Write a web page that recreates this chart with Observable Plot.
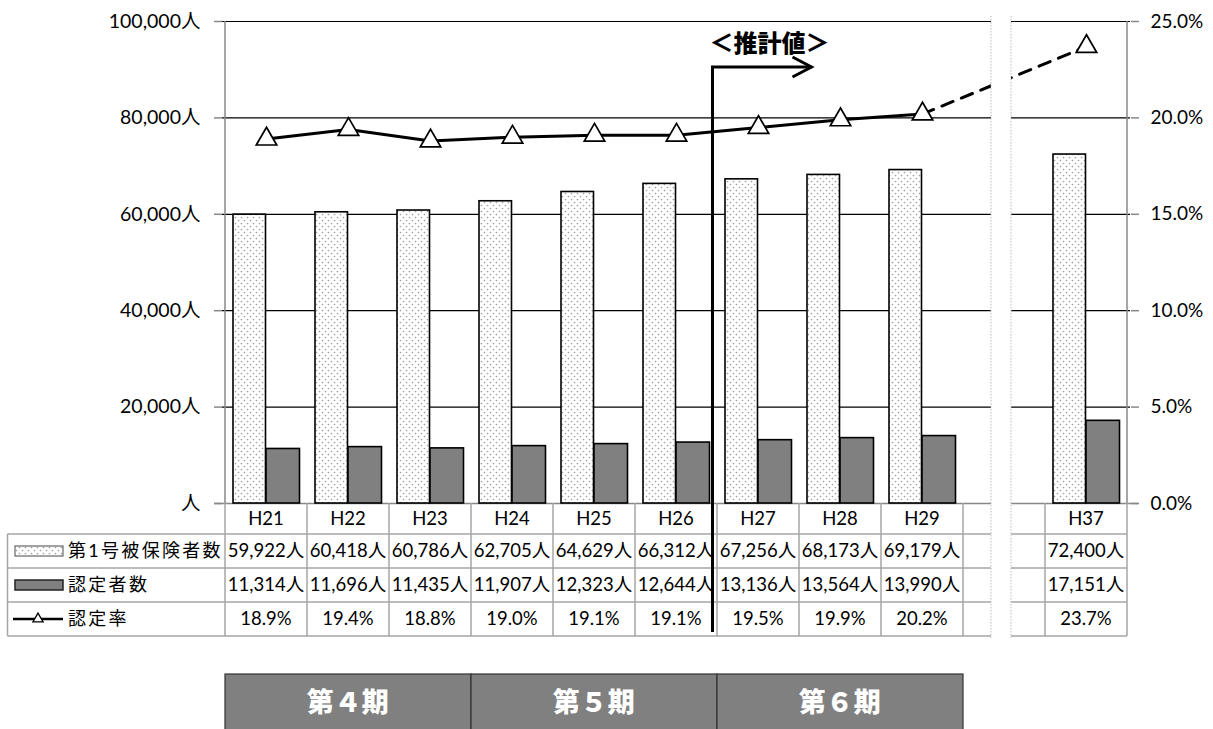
<!DOCTYPE html>
<html><head><meta charset="utf-8">
<script src="https://cdn.jsdelivr.net/npm/d3@7"></script>
<script src="https://cdn.jsdelivr.net/npm/@observablehq/plot@0.6"></script>
<style>
html,body{margin:0;padding:0;background:#fff;}
svg{display:block;}
</style>
</head><body>
<svg width="0" height="0" style="position:absolute">
  <defs>
    <pattern id="dots" patternUnits="userSpaceOnUse" width="6" height="6">
      <rect width="6" height="6" fill="#fff"/>
      <circle cx="1.5" cy="1.5" r="0.85" fill="#a0a0a0"/>
      <circle cx="4.5" cy="4.5" r="0.85" fill="#a0a0a0"/>
    </pattern>
  </defs>
</svg>
<div id="chart"></div>
<script>
// ---- data ----
const categories = ["H21","H22","H23","H24","H25","H26","H27","H28","H29"," ","H37"];
const insured    = [59922,60418,60786,62705,64629,66312,67256,68173,69179,null,72400];
const certified  = [11314,11696,11435,11907,12323,12644,13136,13564,13990,null,17151];
const rates      = [18.9,19.4,18.8,19.0,19.1,19.1,19.5,19.9,20.2,null,23.7];
const yTicks     = [0,20000,40000,60000,80000,100000];
const seriesNames = ["第1号被保険者数","認定者数","認定率"];
const periods    = ["第４期","第５期","第６期"];
const periodStart = ["H21","H24","H27"];
const forecastLabel = "＜推計値＞";
const forecastStart = "H27";

const RATE_SCALE = 100000 / 25; // 25% on right axis = 100,000 on left

const rows = categories.map((c,i)=>({cat:c, ins:insured[i], cert:certified[i], rate:rates[i], ry: rates[i]==null?null:rates[i]*RATE_SCALE}));
const barRows = rows.filter(d=>d.ins!=null);
const lineRows = rows.filter(d=>d.rate!=null);
const solid = lineRows.filter(d=>d.cat!=="H37");
const dashed = lineRows.filter(d=>d.cat==="H29"||d.cat==="H37");

const FONT = "Lato, 'Noto Sans CJK JP', sans-serif";

const plot = Plot.plot({
  width:1213, height:729,
  marginLeft:222, marginRight:83, marginTop:21, marginBottom:226,
  style:{fontFamily:FONT, fontSize:"19px", color:"#000", background:"#fff", overflow:"visible"},
  x:{type:"band", domain:categories, padding:0, axis:null},
  y:{domain:[0,100000], axis:null},
  marks:[
    Plot.ruleY(yTicks.slice(1), {stroke:"#000", strokeWidth:1.2}),
    Plot.ruleY([0], {stroke:"#888", strokeWidth:1.5, insetLeft:-8, insetRight:-8}),
    Plot.axisY({anchor:"left", ticks:yTicks, tickSize:8, tickPadding:14, stroke:"#888", strokeWidth:1.5,
      tickFormat:d=> d===0 ? "人" : d3.format(",")(d)+"人", fontSize:19.5}),
    Plot.axisY({anchor:"right", ticks:yTicks, tickSize:8, tickPadding:12, stroke:"#888", strokeWidth:1.5,
      tickFormat:d=> (d/RATE_SCALE).toFixed(1)+"%", fontSize:19}),
    Plot.barY(barRows, {x:"cat", y:"ins", fill:"url(#dots)", stroke:"#000", strokeWidth:1.6, insetLeft:8, insetRight:41.5}),
    Plot.barY(barRows, {x:"cat", y:"cert", fill:"#808080", stroke:"#000", strokeWidth:1.6, insetLeft:41, insetRight:7.5}),
    Plot.line(solid, {x:"cat", y:"ry", stroke:"#000", strokeWidth:3}),
    Plot.line(dashed, {x:"cat", y:"ry", stroke:"#000", strokeWidth:3, strokeDasharray:"12,9"}),
    Plot.dot(lineRows, {x:"cat", y:"ry", symbol:"triangle", r:7.6, fill:"#fff", stroke:"#000", strokeWidth:1.7})
  ]
});
document.getElementById("chart").appendChild(plot);

const svg = d3.select(plot);
const xs = plot.scale("x"), ys = plot.scale("y");
const bw = xs.bandwidth;
const xL = xs.apply(categories[0]);
const xR = xs.apply(categories[categories.length-1]) + bw;
const y0 = ys.apply(0);
const legendLeft = 7.5;
const rowB = [y0, 534, 568, 602, 636];
const gridColor = "#a6a6a6";

// left & right axis lines
svg.append("line").attr("x1",xL).attr("x2",xL).attr("y1",ys.apply(100000)).attr("y2",y0).attr("stroke","#888").attr("stroke-width",1.5);
svg.append("line").attr("x1",xR).attr("x2",xR).attr("y1",ys.apply(100000)).attr("y2",y0).attr("stroke","#888").attr("stroke-width",1.5);

// table
const tg = svg.append("g").attr("font-family",FONT).attr("font-size",18.5);
rowB.forEach((yy,i)=>{
  if(i===0) return;
  tg.append("line").attr("x1",legendLeft).attr("x2",xR).attr("y1",yy).attr("y2",yy).attr("stroke",gridColor).attr("stroke-width",1.5);
});
categories.forEach((c,i)=>{
  const xx = xs.apply(c);
  tg.append("line").attr("x1",xx).attr("x2",xx).attr("y1",y0).attr("y2",rowB[4]).attr("stroke",gridColor).attr("stroke-width",1.5);
});
tg.append("line").attr("x1",xR).attr("x2",xR).attr("y1",y0).attr("y2",rowB[4]).attr("stroke",gridColor).attr("stroke-width",1.5);
tg.append("line").attr("x1",legendLeft).attr("x2",legendLeft).attr("y1",rowB[1]).attr("y2",rowB[4]).attr("stroke",gridColor).attr("stroke-width",1.5);

const mid = i => (rowB[i]+rowB[i+1])/2;
const fmt = d3.format(",");
rows.forEach(d=>{
  const cx = xs.apply(d.cat) + bw/2;
  tg.append("text").attr("x",cx).attr("y",mid(0)).attr("dy","0.35em").attr("text-anchor","middle").text(d.cat.trim());
  if(d.ins!=null) tg.append("text").attr("x",cx).attr("y",mid(1)).attr("dy","0.35em").attr("text-anchor","middle").text(fmt(d.ins)+"人");
  if(d.cert!=null) tg.append("text").attr("x",cx).attr("y",mid(2)).attr("dy","0.35em").attr("text-anchor","middle").text(fmt(d.cert)+"人");
  if(d.rate!=null) tg.append("text").attr("x",cx).attr("y",mid(3)).attr("dy","0.35em").attr("text-anchor","middle").text(d.rate.toFixed(1)+"%");
});
// legend column
seriesNames.forEach((n,i)=>{
  tg.append("text").attr("x",68).attr("y",mid(i+1)).attr("dy","0.35em").attr("text-anchor","start")
    .attr("font-size",18).attr("letter-spacing","2.3px").text(n);
});
tg.append("rect").attr("x",15).attr("y",mid(1)-5).attr("width",48).attr("height",10).attr("fill","url(#dots)").attr("stroke","#666").attr("stroke-width",1.2);
tg.append("rect").attr("x",15).attr("y",mid(2)-5).attr("width",48).attr("height",10).attr("fill","#808080").attr("stroke","#222").attr("stroke-width",1.5);
tg.append("line").attr("x1",13).attr("x2",63).attr("y1",mid(3)).attr("y2",mid(3)).attr("stroke","#000").attr("stroke-width",2.5);
tg.append("path").attr("d",d3.symbol(d3.symbolTriangle, 45)()).attr("transform",`translate(38,${mid(3)})`).attr("fill","#fff").attr("stroke","#000").attr("stroke-width",1.3);

// axis break band
const bx = xs.apply(" ") + 28;
svg.append("rect").attr("x",bx).attr("y",16).attr("width",20).attr("height",622).attr("fill","#fff");
[bx, bx+20].forEach(xx=>svg.append("line").attr("x1",xx).attr("x2",xx).attr("y1",16).attr("y2",638).attr("stroke","#bbb").attr("stroke-width",1).attr("stroke-dasharray","1.5,1.5"));

// forecast annotation
const ax = xs.apply(forecastStart) - 4.5;
const ag = svg.append("g").attr("stroke","#000").attr("stroke-width",3).attr("fill","none");
ag.append("line").attr("x1",ax).attr("x2",ax).attr("y1",67).attr("y2",632);
ag.append("line").attr("x1",ax-1.5).attr("x2",ax+99).attr("y1",67).attr("y2",67);
ag.append("path").attr("d",`M${ax+80},57 L${ax+99},67 L${ax+80},77`);
svg.append("text").attr("x",ax+57).attr("y",44).attr("dy","0.35em").attr("text-anchor","middle")
  .attr("font-family","'Noto Sans CJK JP', sans-serif").attr("font-weight",900).attr("font-size",24).text(forecastLabel);

// period boxes
const pg = svg.append("g");
periods.forEach((p,i)=>{
  const px = xs.apply(periodStart[i]);
  pg.append("rect").attr("x",px).attr("y",674).attr("width",bw*3).attr("height",60).attr("fill","#808080").attr("stroke","#333").attr("stroke-width",1.2);
  pg.append("text").attr("x",px+bw*1.5).attr("y",702).attr("dy","0.36em").attr("text-anchor","middle")
    .attr("font-family","'Noto Sans CJK JP', sans-serif").attr("font-weight",900).attr("font-size",27).attr("letter-spacing","0.5px").attr("fill","#fff").text(p);
});
</script>
</body></html>
